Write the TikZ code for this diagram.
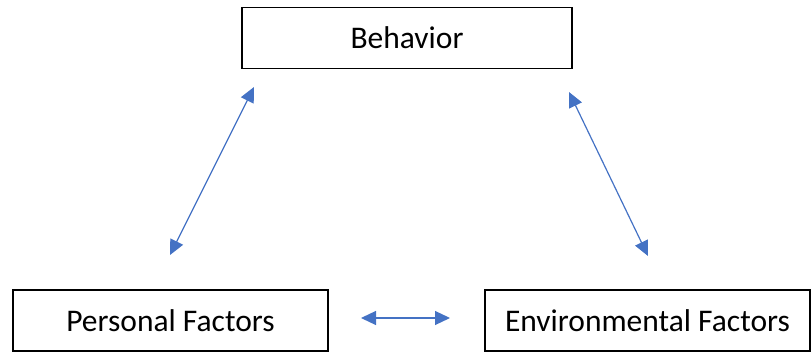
\documentclass[tikz,border=0pt]{standalone}
\usepackage{fontspec}
\setmainfont{Carlito}
\usetikzlibrary{calc,arrows.meta}

\begin{document}
\begin{tikzpicture}[x=1pt, y=-1pt,
    box/.style={draw, line width=1.1pt, inner sep=0pt, minimum height=61pt, font=\fontsize{31.5}{36}\selectfont},
    link/.style={color={rgb,255:red,68;green,114;blue,196}, line width=1.2pt, {Triangle[length=15pt,width=14pt]}-{Triangle[length=15pt,width=14pt]}}]
    \useasboundingbox (0, 0) rectangle (812, 352);

    \node [box, minimum width=330pt] (B) at (407, 38) {Behavior};
        \node [box, minimum width=315pt] (P) at (170.5, 320.5) {Personal Factors};
        \node [box, minimum width=325pt] (E) at (647.5, 320.5) {Environmental Factors};

    % arrow ends
    \coordinate (BP) at (254, 87);
    \coordinate (PB) at (170, 255);
    \coordinate (BE) at (569, 92);
    \coordinate (EB) at (648, 256);
    \coordinate (PE) at (361, 318);
    \coordinate (EP) at (450, 318);

    \draw [link] (BP) -- (PB);
    \draw [link] (BE) -- (EB);
    \draw [link] (PE) -- (EP);
\end{tikzpicture}
\end{document}
